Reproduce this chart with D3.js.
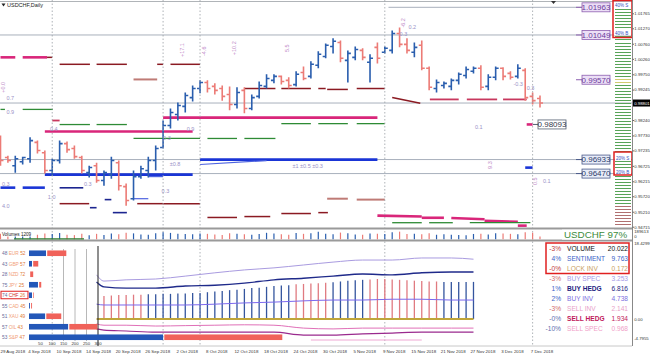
<!DOCTYPE html>
<html><head><meta charset="utf-8">
<script src="https://cdn.jsdelivr.net/npm/d3@7"></script>
<style>body{margin:0;background:#fff}svg{display:block}text{font-family:"Liberation Sans",Arial,sans-serif}</style>
</head><body><svg id="c" width="650" height="357"></svg>
<script>
// ---------- DATA ----------
const dates = ["2018-08-28","2018-08-29","2018-08-30","2018-08-31","2018-09-03","2018-09-04","2018-09-05","2018-09-06","2018-09-07","2018-09-10","2018-09-11","2018-09-12","2018-09-13","2018-09-14","2018-09-17","2018-09-18","2018-09-19","2018-09-20","2018-09-21","2018-09-24","2018-09-25","2018-09-26","2018-09-27","2018-09-28","2018-10-01","2018-10-02","2018-10-03","2018-10-04","2018-10-05","2018-10-08","2018-10-09","2018-10-10","2018-10-11","2018-10-12","2018-10-15","2018-10-16","2018-10-17","2018-10-18","2018-10-19","2018-10-22","2018-10-23","2018-10-24","2018-10-25","2018-10-26","2018-10-29","2018-10-30","2018-10-31","2018-11-01","2018-11-02","2018-11-05","2018-11-06","2018-11-07","2018-11-08","2018-11-09","2018-11-12","2018-11-13","2018-11-14","2018-11-15","2018-11-16","2018-11-19","2018-11-20","2018-11-21","2018-11-22","2018-11-23","2018-11-26","2018-11-27","2018-11-28","2018-11-29","2018-11-30","2018-12-03","2018-12-04","2018-12-05","2018-12-06","2018-12-07"];
const open = [0.9763,0.9700,0.9673,0.9686,0.9696,0.9750,0.9716,0.9657,0.9690,0.9746,
0.9730,0.9700,0.9650,0.9673,0.9624,0.9643,0.9683,0.9604,0.9564,0.9637,
0.9657,0.9690,0.9733,0.9806,0.9842,0.9869,0.9898,0.9928,0.9948,0.9935,
0.9928,0.9908,0.9875,0.9922,0.9862,0.9902,0.9935,0.9955,0.9968,0.9955,
0.9941,0.9981,0.9968,1.0005,1.0034,1.0067,1.0080,1.0021,1.0031,1.0054,
1.0015,1.0064,1.0048,1.0054,1.0110,1.0074,1.0048,1.0071,0.9995,0.9928,
0.9938,0.9935,0.9955,0.9971,0.9985,0.9995,0.9935,0.9965,0.9995,0.9978,
0.9968,0.9988,0.9902,0.9895];
const high = [0.9773,0.9706,0.9706,0.9703,0.9767,0.9756,0.9723,0.9696,0.9756,0.9753,
0.9740,0.9706,0.9673,0.9683,0.9657,0.9703,0.9690,0.9614,0.9657,0.9673,
0.9703,0.9740,0.9822,0.9862,0.9882,0.9915,0.9938,0.9955,0.9955,0.9945,
0.9938,0.9935,0.9932,0.9932,0.9908,0.9951,0.9975,0.9975,0.9971,0.9965,
0.9985,1.0001,1.0018,1.0051,1.0077,1.0094,1.0087,1.0054,1.0067,1.0061,
1.0041,1.0080,1.0067,1.0120,1.0130,1.0094,1.0080,1.0087,1.0001,0.9958,
0.9951,0.9961,0.9981,1.0001,1.0001,1.0005,0.9975,1.0001,0.9998,0.9985,
1.0008,0.9995,0.9915,0.9905];
const low = [0.9673,0.9683,0.9650,0.9677,0.9683,0.9713,0.9647,0.9640,0.9680,0.9716,
0.9696,0.9647,0.9634,0.9617,0.9607,0.9630,0.9591,0.9541,0.9558,0.9630,
0.9634,0.9657,0.9730,0.9796,0.9822,0.9849,0.9885,0.9912,0.9915,0.9908,
0.9888,0.9856,0.9862,0.9846,0.9856,0.9895,0.9928,0.9945,0.9941,0.9928,
0.9935,0.9955,0.9961,0.9995,1.0028,1.0044,1.0015,0.9948,1.0021,1.0021,
0.9948,1.0011,1.0044,1.0044,1.0064,1.0044,1.0031,0.9988,0.9922,0.9915,
0.9928,0.9922,0.9941,0.9961,0.9978,0.9922,0.9922,0.9955,0.9955,0.9958,
0.9961,0.9888,0.9875,0.9865];
const close = [0.9690,0.9690,0.9696,0.9700,0.9756,0.9723,0.9657,0.9690,0.9746,0.9726,
0.9703,0.9657,0.9667,0.9624,0.9650,0.9690,0.9607,0.9558,0.9637,0.9663,
0.9690,0.9730,0.9806,0.9849,0.9872,0.9905,0.9928,0.9948,0.9928,0.9922,
0.9902,0.9875,0.9915,0.9862,0.9898,0.9938,0.9961,0.9968,0.9951,0.9938,
0.9975,0.9961,1.0008,1.0041,1.0071,1.0084,1.0028,1.0044,1.0057,1.0031,
1.0028,1.0028,1.0061,1.0110,1.0074,1.0054,1.0064,0.9995,0.9932,0.9948,
0.9945,0.9955,0.9975,0.9991,0.9995,0.9932,0.9965,0.9995,0.9968,0.9965,
0.9995,0.9898,0.9888,0.9880];
const volume = [120000,95000,110000,105000,130000,98000,125000,115000,135000,100000,
90000,120000,85000,118000,95000,125000,110000,140000,128000,102000,
96000,132000,150000,138000,120000,112000,108000,125000,118000,105000,
95000,130000,122000,110000,98000,115000,140000,125000,108000,100000,
135000,118000,128000,160000,120000,110000,145000,130000,105000,98000,
125000,120000,115000,150000,165000,112000,120000,108000,130000,98000,
110000,100000,90000,85000,115000,120000,105000,130000,125000,118000,
110000,150000,140000,60000];
const dateTickIdx = [1,5,9,13,17,21,25,29,33,37,41,45,49,53,57,61,65,69,73];
const separatorIdx = [7,22,27,52,72];
const priceTicks = [1.01765,1.01270,1.00760,1.00260,0.99750,0.99245,0.98240,0.97730,0.97235,0.96725,0.96215,0.95720,0.95210,0.94715];
const currentPrice = 0.98801;
const levelLines = [1.01049, 0.96933, 0.96470];
const labelLevels = [[1.01963,"res"],[1.01049,"res"],[0.99570,"res"],[0.98093,"mid"],[0.96933,"sup"],[0.96470,"sup"]];
// zone segments: [kind, fromIdx, toIdx, price, endPrice]
const zones = [
["pink",0,2,1.0031],["pink",3,6.3,1.0031],["maroon",6.3,7,1.0031],
["maroon",8,12.1,1.0008],["maroon",13,17.1,1.0008],["maroon",21.2,22,1.0008],["maroon",23,27,1.0008],
["rosy",18,21.2,0.9958],
["green",0,0.6,0.9859],["green",3,7.1,0.9859],
["pink",22,51,0.9832],
["maroon",33,37.2,0.9928],["maroon",38,42,0.9928],["maroon",43,44,0.9928],["maroon",44.2,47,0.9925],["maroon",48.2,52,0.9928],
["maroon",53,56.8,0.9898,0.9879],
["crimson",58.1,62,0.9892],["crimson",63.1,67.2,0.9892],["crimson",68,71.2,0.9892],
["pink",6,26,0.97859],["crimson",7,8,0.98223],
["green",8,12.1,0.9809],["green",13,17.1,0.9809],
["green",38,42,0.9812],["green",43,47,0.9812],["green",48.2,52,0.9812],
["green",18,27,0.9763],["green",28,32,0.9763],["green",33,37.2,0.9763],
["blue",27,51,0.9693],["blueThin",27,36,0.9677,0.9690],
["blue",6,26,0.96436],["blueThin",20,22,0.9637],
["blue",0,2,0.96005],["blue",3,6,0.96005],
["navy",8,11.2,0.9600],["navy",12.1,13,0.95343],["navy",14.1,15,0.9561],["navy",15.2,17.1,0.9518],["blueThin",18,20,0.9564],
["maroon",8,12,0.95476],["maroon",18.5,22,0.95476],["maroon",22,27,0.95476],
["maroon",28,32,0.9502],["maroon",33,36.5,0.9505],["maroon",38,42,0.9515],["maroon",43,44.3,0.9518],
["rosy",44.2,47,0.9564],["rosy",48.2,52,0.9561],
["pink",51,57,0.9508,0.9505],["pink",57,60,0.9501],["pink",61,65.5,0.9500,0.9496],["pink",65.5,70,0.9491,0.9488],["pink",70,71.2,0.9475],
["green",53,57,0.94847],["green",58,61.2,0.94847],["green",63.5,71.7,0.94847],
["blue",71,72,0.96667],["pink",71.2,72,0.98093]
];
// small annotation numbers: [idx, price, text, rotated]
const notes = [
[24.6,1.0055,"+17.1",1],[27.5,1.0051,"-4.6",1],[31.6,1.0061,"+10.2",1],[38.8,1.0061,"5.5",1],[54.5,1.0145,"-6.2",1],
[55.2,1.0130,"0.2",0],[54.0,1.0107,"0.3",0],[64.2,0.9802,"0.1",0],[69.4,0.9942,"-0.3",0],[71.2,0.9928,"0.3",0],
[73.4,0.9622,"0.1",0],[72.3,0.9622,"0.5",1],[0.3,0.9932,"+0.0",1],[0.8,0.9895,"0.7",0],[0.8,0.9850,"0.9",0],
[0.2,0.9611,"0.3",0],[11.3,0.9611,"0.3",0],[0.2,0.9540,"4.0",0],[6.4,0.9568,"1.0",0],[6.7,0.9795,"0.4",0],
[25.2,0.9795,"0.9",0],[21.8,0.9590,"0.3",0],[22.9,0.9680,"±0.8",0],[22.0,0.9763,"0.3",0],[39.5,0.9672,"±1 ±0.5 ±0.3",0],[66.2,0.9675,"9.3",1]
];
// lower-left strength table
const symbols = ["EUR","GBP","NZD","JPY","CHF","CAD","XAU","OIL","S&P"];
const pctLeft = [48,43,28,75,74,55,51,57,53];
const pctRight = [52,57,72,25,26,45,49,43,47];
const barBuy = [74,13,0,39,13,4,70,170,583];
const barSell = [83,22,13,9,3,4,65,122,513];
const barTicks = [50,100,150,200,250,300];
// lower indicator
const lineIdx = [13,14,17,21,25,29,33,37,41,45,49,53,57,61,64];
const lineLavender = [10.7,9.2,9.5,9.7,10.4,11.2,11.9,12.4,13.1,13.8,14.3,14.3,14.8,14.8,14.5];
const lineNavy = [9.0,7.8,7.5,7.5,8.0,8.2,8.7,9.5,9.9,10.4,10.9,10.7,11.2,11.4,11.4];
const lineMid = [3.6,3.4,3.4,3.4,3.4,3.6,3.9,4.1,4.4,4.6,4.6,4.8,4.8,4.6,4.6];
const linePink = [-1.2,-1.5,-1.5,-1.7,-1.6,-1.5,-1.4,-1.5,-2.2,-2.4,-2.2,-2.2,-2.2,-2.2,-2.2];
const lineMagenta = [-2.4,-2.7,-2.9,-3.2,-3.2,-3.2,-3.2,-3.2,-3.9,-3.9,-3.6,-3.4,-3.2,-3.2,-3.2];
const histStart = 14;
const histVals = [5.6,5.7,5.8,5.8,5.9,5.9,6.0,6.0,6.1,6.1,6.2,6.2,6.3,6.3,6.5,6.7,6.8,7.0,7.1,7.3,7.5,7.6,7.8,8.0,8.1,8.2,8.4,8.5,8.6,8.7,8.8,8.9,9.1,9.3,9.4,9.5,9.6,9.7,9.7,9.6,9.5,9.4,9.3,9.2,9.1,9.1,9.0,9.0,9.0,9.0,9.0];
const histSide = "SSSSSSBBBBBBBBBBBBBBBBBBBBSSSSSBBBBBSSSSSSSSSSBBBBB";
const lowerTicks = [18.4299,0.00,-4.7955];
// right stats list
const statPct = ["-3%","4%","-0%","-3%","1%","2%","-3%","-0%","-10%"];
const statNames = ["VOLUME","SENTIMENT","LOCK INV","BUY SPEC","BUY HEDG","BUY INV","SELL INV","SELL HEDG","SELL SPEC"];
const statVals = [20.022,9.763,0.172,3.253,6.816,4.738,2.141,1.934,0.968];

// ---------- DRAW ----------
const svg = d3.select("#c");
const AXX = 632;
const AXF = 4.3;
const xI = d3.scaleLinear().domain([0, dates.length-1]).range([0.5, 540]);
const y = d3.scaleLinear().domain([0.94715, 1.01765]).range([226.7, 13.3]);
const UP = "#2a5eae", DN = "#ec7b76";

svg.append("defs").append("clipPath").attr("id","mainClip").append("rect").attr("x",0).attr("y",0).attr("width",AXX).attr("height",228);
const main = svg.append("g").attr("clip-path","url(#mainClip)");

svg.selectAll(".sep").data(separatorIdx).join("line")
  .attr("x1",d=>xI(d)).attr("x2",d=>xI(d)).attr("y1",0).attr("y2",346)
  .attr("stroke","#9aa0a6").attr("stroke-width",0.8).attr("stroke-dasharray","1.5,2");

main.selectAll(".lvl").data(levelLines).join("line")
  .attr("x1",0).attr("x2",AXX).attr("y1",d=>y(d)).attr("y2",d=>y(d))
  .attr("stroke","#a8b0bc").attr("stroke-width",1);
main.append("line").attr("x1",0).attr("x2",AXX).attr("y1",y(currentPrice)).attr("y2",y(currentPrice)).attr("stroke","#a8b0bc");
main.append("line").attr("x1",xI(52.5)).attr("x2",582).attr("y1",y(1.01963)).attr("y2",y(1.01963)).attr("stroke","#a8b0bc");
main.append("line").attr("x1",0).attr("x2",AXX).attr("y1",1.5).attr("y2",1.5).attr("stroke","#b0b4b8");

const zStyle = {pink:["#d9267a",2.6],maroon:["#8b1a22",1.5],rosy:["#bf7b76",2],green:["#2e8b35",1.3],blue:["#1a35d6",2.6],blueThin:["#4d63e0",1.2],navy:["#1c2590",1.6],crimson:["#c8385e",1.8]};
main.selectAll(".zone").data(zones).join("line")
  .attr("x1",d=>xI(d[1])).attr("x2",d=>xI(d[2]))
  .attr("y1",d=>y(d[3])).attr("y2",d=>y(d[4]!==undefined?d[4]:d[3]))
  .attr("stroke",d=>zStyle[d[0]][0]).attr("stroke-width",d=>zStyle[d[0]][1]);

const bars = dates.map((d,i)=>({i,o:open[i],h:high[i],l:low[i],c:close[i]}));
main.selectAll(".bar").data(bars).join("path")
  .attr("d",b=>{const x=xI(b.i);return `M${x},${y(b.h)}V${y(b.l)}M${x-3},${y(b.o)}H${x}M${x},${y(b.c)}H${x+3}`;})
  .attr("fill","none").attr("stroke",b=>b.c>=b.o?UP:DN).attr("stroke-width",1.6);

main.selectAll(".note").data(notes).join("text")
  .attr("transform",d=>`translate(${xI(d[0])},${y(d[1])})${d[3]?" rotate(-90)":""}`)
  .attr("text-anchor",d=>d[3]?"middle":"start").attr("dy","0.35em")
  .attr("font-size",5.5).attr("fill",d=>d[3]?"#c08ac8":"#9a92c8").text(d=>d[2]);

svg.append("path").attr("d","M1.5,3.5h4l-2,3z").attr("fill","#222");
svg.append("text").attr("x",7).attr("y",7).attr("font-size",5.5).attr("fill","#222").text("USDCHF,Daily");
svg.append("path").attr("d","M551,1h5l-2.5,3z").attr("fill","#333");

const boxStyle = {res:["#ecdff6","#8d5fb0","#6b3b9c"],mid:["#ffffff","#556070","#34384a"],sup:["#e8ecf8","#4a5a8a","#2a3a6a"]};
labelLevels.forEach(([p,k])=>{
  const bx = k==="mid"?538:582, yy=y(p);
  const st = boxStyle[k];
  svg.append("line").attr("x1",k==="mid"?533:576).attr("x2",bx).attr("y1",yy).attr("y2",yy).attr("stroke",st[1]).attr("stroke-width",1);
  svg.append("rect").attr("x",bx).attr("y",yy-4.5).attr("width",28).attr("height",9).attr("fill",st[0]).attr("stroke",st[1]).attr("stroke-width",0.8);
  svg.append("text").attr("x",bx+14).attr("y",yy).attr("dy","0.36em").attr("text-anchor","middle").attr("font-size",8).attr("fill",st[2]).text(p.toFixed(5));
});

const ladder = d3.ticks(y.invert(227), y.invert(1), 75);
svg.selectAll(".lad").data(ladder).join("line")
  .attr("x1",615).attr("x2",631).attr("y1",d=>Math.round(y(d))+0.5).attr("y2",d=>Math.round(y(d))+0.5)
  .attr("stroke",d=>d<0.9547?"#b07070":(d>0.9949&&d<0.9966?"#d0cc70":"#58a458")).attr("stroke-width",1);
[[613,0.5,19,37,["40% S","40% B"],[5,33]],[614,152,18,23,["20% S","20% B"],[158,172]]].forEach(([bx,by,bw,bh,tx,ty])=>{
  tx.forEach((t,k)=>{
    svg.append("rect").attr("x",bx+1).attr("y",ty[k]-3).attr("width",bw-2).attr("height",5).attr("fill","#fff");
    svg.append("text").attr("x",bx+2).attr("y",ty[k]+1.5).attr("font-size",4.5).attr("fill","#3050c0").text(t);
  });
  svg.append("rect").attr("x",bx).attr("y",by).attr("width",bw).attr("height",bh).attr("fill","none").attr("stroke","#e02020").attr("stroke-width",1.5);
});

svg.append("line").attr("x1",AXX+0.5).attr("x2",AXX+0.5).attr("y1",0).attr("y2",346).attr("stroke","#888");
const ra = svg.append("g").attr("transform",`translate(${AXX+0.5},0)`).call(d3.axisRight(y).tickValues(priceTicks).tickSize(1.5).tickFormat(d3.format(".5f")));
ra.select(".domain").remove();
ra.selectAll("text").attr("font-size",AXF).attr("x",1.8).attr("fill","#333");
ra.selectAll("line").attr("stroke","#666");
svg.append("rect").attr("x",633).attr("y",y(currentPrice)-3.5).attr("width",17).attr("height",7).attr("fill","#000");
svg.append("text").attr("x",634.2).attr("y",y(currentPrice)).attr("dy","0.35em").attr("font-size",AXF).attr("fill","#fff").text(currentPrice.toFixed(5));

[228.5,240.5].forEach(v=>svg.append("line").attr("x1",0).attr("x2",AXX).attr("y1",v).attr("y2",v).attr("stroke","#9a9a9a").attr("stroke-width",2));
svg.append("line").attr("x1",0).attr("x2",AXX).attr("y1",346).attr("y2",346).attr("stroke","#c8c8c8");

// volume panel
const yV = d3.scaleLinear().domain([0,189613]).range([239.3,230.5]);
svg.selectAll(".vol").data(bars).join("line")
  .attr("x1",b=>xI(b.i)).attr("x2",b=>xI(b.i)).attr("y1",yV(0)).attr("y2",b=>yV(volume[b.i]))
  .attr("stroke",b=>b.c>=b.o?UP:DN).attr("stroke-width",1.2);
svg.append("line").attr("x1",14).attr("x2",84).attr("y1",238.8).attr("y2",238.8).attr("stroke","#2e7d32").attr("stroke-width",1.2);
svg.append("rect").attr("x",1).attr("y",230.5).attr("width",30).attr("height",6).attr("fill","#fff");
svg.append("text").attr("x",2).attr("y",235.5).attr("font-size",4.6).attr("fill","#222").text("Volumes 1209");
svg.append("rect").attr("x",562).attr("y",229.6).attr("width",52).attr("height",10).attr("fill","#fff");
svg.append("text").attr("x",564).attr("y",237.8).attr("font-family","Liberation Serif, serif").attr("font-size",9.8).attr("fill","#3d8c3d").text("USDCHF 97%");
svg.append("text").attr("x",634.2).attr("y",232.8).attr("font-size",AXF).attr("fill","#333").text("189613");
svg.append("text").attr("x",634.2).attr("y",238).attr("font-size",AXF).attr("fill","#333").text("0");

// lower indicator
const yL = d3.scaleLinear().domain([-4.7955,18.4299]).range([338.8,243]);
svg.selectAll(".hist").data(histVals).join("line")
  .attr("x1",(d,k)=>xI(histStart+k)).attr("x2",(d,k)=>xI(histStart+k))
  .attr("y1",yL(0)).attr("y2",d=>yL(d))
  .attr("stroke",(d,k)=>histSide[k]==="B"?"#34559e":"#e07a80").attr("stroke-width",1.3);
svg.append("line").attr("x1",xI(13)).attr("x2",xI(64)).attr("y1",yL(0)).attr("y2",yL(0)).attr("stroke","#bfa53a").attr("stroke-width",1.8);
const lineGen = vals => d3.line().x((d,k)=>xI(lineIdx[k])).y(d=>yL(d)).curve(d3.curveMonotoneX)(vals);
[[lineLavender,"#a99be0",1],[lineNavy,"#1f2a8a",1.4],[lineMid,"#7b68ee",1],[linePink,"#e070b8",1],[lineMagenta,"#9a2a8e",1.2]].forEach(([v,c,w])=>{
  svg.append("path").attr("d",lineGen(v)).attr("fill","none").attr("stroke",c).attr("stroke-width",w);
});
svg.append("line").attr("x1",xI(42)).attr("x2",xI(57)).attr("y1",340).attr("y2",340).attr("stroke","#f0a8d4").attr("stroke-width",1);
svg.selectAll(".ltk").data(lowerTicks).join("text").attr("x",634.2).attr("y",d=>yL(d)).attr("dy","0.35em")
  .attr("font-size",AXF).attr("fill","#333").text(d=>d===0?"0.00":d.toFixed(4));

// lower-left strength bars
const band = d3.scaleBand().domain(symbols).range([248,342.5]);
const xB = d3.scaleLinear().domain([0,300]).range([29,98]);
[150,200,250].forEach(v=>svg.append("line").attr("x1",xB(v)).attr("x2",xB(v)).attr("y1",249).attr("y2",341).attr("stroke","#b8b8b8"));
svg.append("line").attr("x1",xB(300)).attr("x2",xB(300)).attr("y1",246).attr("y2",346).attr("stroke","#333").attr("stroke-width",1.1);
symbols.forEach((s,k)=>{
  const cy = band(s)+band.bandwidth()/2;
  svg.append("rect").attr("x",xB(0)).attr("y",cy-2.8).attr("width",xB(barBuy[k])-xB(0)).attr("height",5.6).attr("fill","#2357b8");
  svg.append("rect").attr("x",xB(barBuy[k])+1.2).attr("y",cy-2.8).attr("width",xB(barSell[k])-xB(0)).attr("height",5.6).attr("fill","#f0625a");
  const t = svg.append("text").attr("x",2).attr("y",cy+1.8).attr("font-size",4.8);
  t.append("tspan").attr("fill","#6a6a9a").text(pctLeft[k]+" ");
  t.append("tspan").attr("fill",s==="CHF"?"#d03030":"#f2a07a").text(s+" ");
  t.append("tspan").attr("fill","#e07b39").text(pctRight[k]);
  if(s==="CHF") svg.append("rect").attr("x",1).attr("y",cy-4).attr("width",27).attr("height",7.5).attr("fill","none").attr("stroke","#e02020").attr("stroke-width",1);
});
svg.selectAll(".btk").data(barTicks).join("text").attr("x",d=>xB(d)).attr("y",345).attr("text-anchor","middle").attr("font-size",4.3).attr("fill","#333").text(d=>d);

// stats list
const rowY = d3.scalePoint().domain(statNames).range([251,331]);
const nameCol = ["#111","#3a5fc8","#c9a060","#a49ae6","#1d1d80","#7a6ee0","#e8a0c8","#c0185a","#f0a0c8"];
const pctCol = ["#c03a3a","#3a5fc8","#c03a3a","#d06a6a","#3a5fc8","#3a5fc8","#d06a6a","#6070b0","#6070b0"];
statNames.forEach((n,k)=>{
  const yy = rowY(n);
  const f = "Liberation Serif, serif";
  svg.append("text").attr("x",561).attr("y",yy).attr("text-anchor","end").attr("font-family",f).attr("font-size",6.6).attr("fill",pctCol[k]).text(statPct[k]);
  svg.append("text").attr("x",567).attr("y",yy).attr("font-family",f).attr("font-size",6.6).attr("font-weight",(n.includes("HEDG")?"bold":"normal")).attr("fill",nameCol[k]).text(n);
  svg.append("text").attr("x",628).attr("y",yy).attr("text-anchor","end").attr("font-family",f).attr("font-size",6.6).attr("fill",nameCol[k]).text(statVals[k].toFixed(3));
});
svg.append("rect").attr("x",546).attr("y",243).attr("width",83).attr("height",30.5).attr("fill","none").attr("stroke","#e02020").attr("stroke-width",1.5);

// date axis
svg.selectAll(".dtk").data(dateTickIdx).join("text")
  .attr("x",(d,k)=>k===0?0.5:xI(d)+2).attr("y",353)
  .attr("text-anchor",(d,k)=>k===0?"start":"middle").attr("font-size",4.4).attr("fill","#333")
  .text(d=>d3.timeFormat("%-d %b %Y")(d3.timeParse("%Y-%m-%d")(dates[d])));
</script></body></html>
